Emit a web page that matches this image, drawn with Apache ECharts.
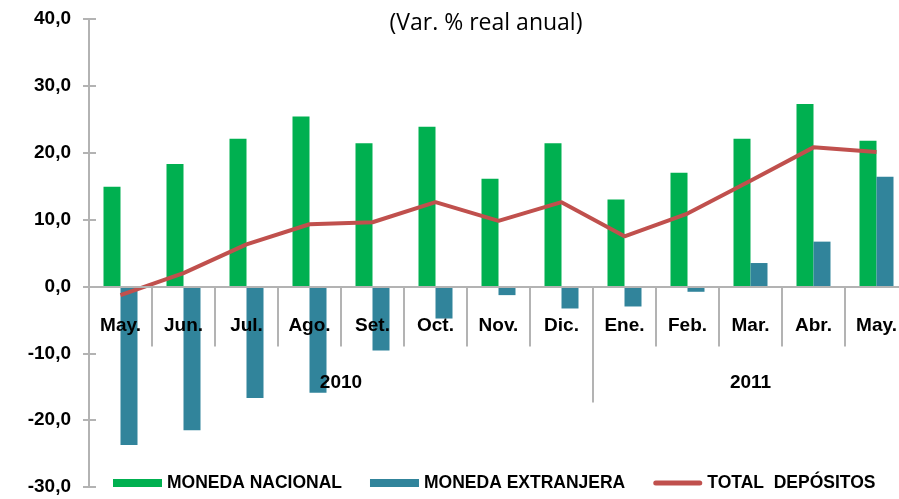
<!DOCTYPE html>
<html>
<head>
<meta charset="utf-8">
<script src="https://cdn.jsdelivr.net/npm/echarts@6/dist/echarts.min.js"></script>
<style>
  html, body { margin: 0; padding: 0; background: #fff; }
  #chart { width: 899px; height: 499px; }
</style>
</head>
<body>
<div id="chart"></div>
<script>
// meses (may 2010 - may 2011)
var months = ['May.', 'Jun.', 'Jul.', 'Ago.', 'Set.', 'Oct.', 'Nov.', 'Dic.', 'Ene.', 'Feb.', 'Mar.', 'Abr.', 'May.'];
var years = ['2010', '2011'];
var yearCenters = [4, 10.5];   // centro de cada año en unidades de categoría
var yearBreaks = [8];          // separación entre años
var monedaNacional = [14.9, 18.3, 22.1, 25.4, 21.4, 23.9, 16.1, 21.4, 13.0, 17.0, 22.1, 27.3, 21.8];
var monedaExtranjera = [-23.7, -21.5, -16.7, -15.9, -9.6, -4.8, -1.3, -3.3, -3.0, -0.8, 3.5, 6.7, 16.4];
var totalDepositos = [-1.3, 2.0, 6.3, 9.3, 9.6, 12.6, 9.8, 12.6, 7.5, 10.9, 15.8, 20.8, 20.1];

var boldFont = '"Liberation Sans Narrow", "Liberation Sans", Arial, sans-serif';
var grey = '#b3b3b3';

var chart = echarts.init(document.getElementById('chart'));

var option = {
  animation: false,
  backgroundColor: '#fff',
  title: {
    text: '(Var. % real anual)',
    left: 481,
    textAlign: 'center',
    top: 7,
    textStyle: { fontFamily: '"Open Sans", sans-serif', fontSize: 23, fontWeight: 'normal', color: '#000' }
  },
  legend: {
    left: 108,
    top: 469,
    itemWidth: 49,
    itemHeight: 8,
    itemGap: 28,
    textStyle: { fontFamily: boldFont, fontSize: 17.5, fontWeight: 'bold', color: '#000' },
    data: [
      { name: 'MONEDA NACIONAL', icon: 'rect' },
      { name: 'MONEDA EXTRANJERA', icon: 'rect' },
      { name: 'TOTAL  DEPÓSITOS', icon: 'path://M0,0 M49,8 M2.5,1.5 L46.5,1.5 A2.5,2.5 0 0 1 46.5,6.5 L2.5,6.5 A2.5,2.5 0 0 1 2.5,1.5 Z' }
    ]
  },
  grid: { left: 89, top: 19, width: 819, height: 468, outerBoundsMode: 'none', containLabel: false },
  xAxis: [{
    type: 'category',
    position: 'bottom',
    z: 10,
    data: months,
    axisLine: { onZero: true, lineStyle: { color: grey, width: 2 } },
    axisTick: { show: true, interval: 0, length: 60, lineStyle: { color: grey, width: 2 } },
    axisLabel: {
      interval: 0, margin: -171,
      fontFamily: boldFont, fontSize: 19, fontWeight: 'bold', color: '#000'
    }
  }, {
    type: 'value',
    position: 'bottom',
    z: 10,
    min: 0,
    max: 13,
    axisLine: { show: false, onZero: true, onZeroAxisIndex: 0 },
    splitLine: { show: false },
    axisTick: { show: true, customValues: yearBreaks, length: 116, lineStyle: { color: grey, width: 2 } },
    axisLabel: {
      customValues: yearCenters,
      margin: -114,
      fontFamily: boldFont, fontSize: 19, fontWeight: 'bold', color: '#000',
      formatter: function(v) { return years[yearCenters.indexOf(v)]; }
    }
  }],
  yAxis: [{
    type: 'value',
    min: -30,
    max: 40,
    interval: 10,
    axisLine: { show: true, onZero: false, lineStyle: { color: grey, width: 2 } },
    axisTick: { show: true, length: 6, lineStyle: { color: grey, width: 2 } },
    splitLine: { show: false },
    axisLabel: {
      margin: 18,
      fontFamily: boldFont, fontSize: 19, fontWeight: 'bold', color: '#000',
      formatter: function(v) { return v.toFixed(1).replace('.', ','); }
    }
  }, {
    type: 'value',
    position: 'left',
    min: -30,
    max: 40,
    interval: 10,
    axisLine: { show: false, onZero: false },
    axisTick: { show: true, inside: true, length: 7, lineStyle: { color: grey, width: 2 } },
    splitLine: { show: false },
    axisLabel: { show: false }
  }],
  series: [{
    name: 'MONEDA NACIONAL',
    type: 'bar',
    data: monedaNacional,
    barWidth: 17,
    barGap: '0%',
    itemStyle: { color: '#00b050' }
  }, {
    name: 'MONEDA EXTRANJERA',
    type: 'bar',
    data: monedaExtranjera,
    barWidth: 17,
    barGap: '0%',
    itemStyle: { color: '#31849b' }
  }, {
    name: 'TOTAL  DEPÓSITOS',
    type: 'line',
    data: totalDepositos,
    symbol: 'none',
    z: 5,
    lineStyle: { color: '#c0504d', width: 4 },
    itemStyle: { color: '#c0504d' }
  }]
};

chart.setOption(option);
</script>
</body>
</html>
